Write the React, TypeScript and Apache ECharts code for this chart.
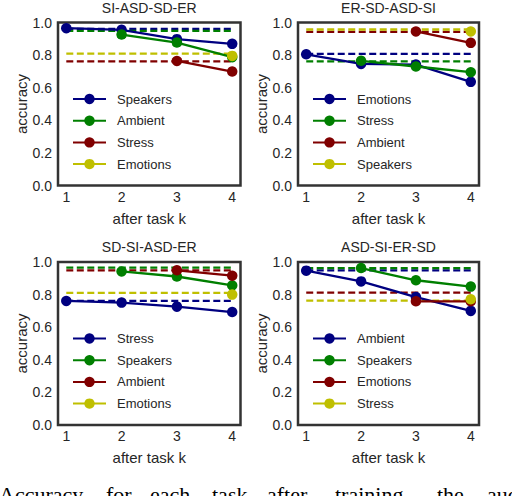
import React, { useEffect, useRef } from "react";
import * as echarts from "echarts";

const panelTitles = ["SI-ASD-SD-ER", "ER-SD-ASD-SI", "SD-SI-ASD-ER", "ASD-SI-ER-SD"];
const steps = [1, 2, 3, 4];
const yTicks = [0, 0.2, 0.4, 0.6, 0.8, 1.0];

// task names per panel, in order of training
const tasksP1 = ["Speakers", "Ambient", "Stress", "Emotions"];
const tasksP2 = ["Emotions", "Stress", "Ambient", "Speakers"];
const tasksP3 = ["Stress", "Speakers", "Ambient", "Emotions"];
const tasksP4 = ["Ambient", "Speakers", "Emotions", "Stress"];

// accuracy after each task k (null = task not learned yet)
const accP1 = [
  [0.965, 0.955, 0.898, 0.869],
  [null, 0.926, 0.877, 0.787],
  [null, null, 0.764, 0.699],
  [null, null, null, 0.795],
];
const accP2 = [
  [0.805, 0.746, 0.742, 0.636],
  [null, 0.765, 0.73, 0.695],
  [null, null, 0.945, 0.875],
  [null, null, null, 0.945],
];
const accP3 = [
  [0.761, 0.751, 0.726, 0.693],
  [null, 0.942, 0.911, 0.856],
  [null, null, 0.949, 0.916],
  [null, null, null, 0.8],
];
const accP4 = [
  [0.947, 0.881, 0.785, 0.7],
  [null, 0.963, 0.888, 0.849],
  [null, null, 0.759, 0.759],
  [null, null, null, 0.771],
];

// single-task baselines (dashed)
const baseP1 = [0.96, 0.949, 0.762, 0.809];
const baseP2 = [0.807, 0.761, 0.942, 0.957];
const baseP3 = [0.761, 0.965, 0.949, 0.811];
const baseP4 = [0.949, 0.963, 0.812, 0.763];

const captionWords = ["Accuracy", "for", "each", "task", "after", "training", "the", "audio"];

const colors = ["#000080", "#007f00", "#800000", "#bfbf00"];
const textColor = "#262626";
const FONT = "Liberation Sans, Arial, sans-serif";

const grids = [
  { left: 58, top: 22.5, width: 182.5, height: 163 },
  { left: 298, top: 22.5, width: 181, height: 163 },
  { left: 58, top: 262, width: 182.5, height: 163 },
  { left: 298, top: 262, width: 181, height: 163 },
];
const captionX = [-1, 106, 150, 212, 267, 335, 437, 487];

export default function App() {
  const ref = useRef<HTMLDivElement>(null);
  useEffect(() => {
    if (!ref.current) return;
    const chart = echarts.init(ref.current, null, { renderer: "svg" });
    const tasks = [tasksP1, tasksP2, tasksP3, tasksP4];
    const accs = [accP1, accP2, accP3, accP4];
    const bases = [baseP1, baseP2, baseP3, baseP4];

    const series: any[] = [];
    const legends: any[] = [];
    const graphics: any[] = [];
    for (let p = 0; p < 4; p++) {
      const g = grids[p];
      for (let t = 0; t < 4; t++) {
        series.push({
          type: "line",
          name: `${p}|${tasks[p][t]}|base`,
          xAxisIndex: p,
          yAxisIndex: p,
          data: [
            [steps[0], bases[p][t]],
            [steps[3], bases[p][t]],
          ],
          symbol: "none",
          lineStyle: { color: colors[t], width: 2.3, type: [7, 3.5] },
          itemStyle: { color: colors[t] },
          silent: true,
          z: 2,
        });
      }
      for (let t = 0; t < 4; t++) {
        const d: any[] = [];
        accs[p][t].forEach((v, i) => {
          if (v !== null) d.push([steps[i], v]);
        });
        series.push({
          type: "line",
          name: `${p}|${tasks[p][t]}`,
          xAxisIndex: p,
          yAxisIndex: p,
          data: d,
          symbol: "circle",
          symbolSize: 10.5,
          lineStyle: { color: colors[t], width: 2.3 },
          itemStyle: { color: colors[t] },
          silent: true,
          z: 3,
        });
      }
      legends.push({
        orient: "vertical",
        left: g.left + 14,
        top: g.top + 70,
        padding: 0,
        itemWidth: 33,
        itemHeight: 13,
        itemGap: 8.7,
        selectedMode: false,
        data: tasks[p].map((n) => `${p}|${n}`),
        formatter: (name: string) => `{t|${name.split("|")[1]}}`,
        textStyle: {
          fontFamily: FONT,
          fontSize: 13,
          color: textColor,
          rich: { t: { fontFamily: FONT, fontSize: 13, color: textColor, padding: [0, 0, 0, 6] } },
        },
      });
      graphics.push({
        type: "text",
        x: g.left + g.width / 2,
        y: g.top - 15,
        style: {
          text: panelTitles[p],
          align: "center",
          verticalAlign: "middle",
          fontFamily: FONT,
          fontSize: 14,
          fill: textColor,
        },
      });
    }
    captionWords.forEach((w, i) => {
      graphics.push({
        type: "text",
        x: captionX[i],
        y: 494,
        style: {
          text: w,
          align: "left",
          verticalAlign: "middle",
          fontFamily: "Liberation Serif, Times New Roman, serif",
          fontSize: 22,
          fill: "#000",
        },
      });
    });

    chart.setOption({
      animation: false,
      backgroundColor: "#fff",
      grid: grids.map((g) => ({
        ...g,
        show: true,
        borderColor: "#333",
        borderWidth: 2.5,
        backgroundColor: "transparent",
        containLabel: false,
      })),
      xAxis: grids.map((_, i) => ({
        type: "value",
        gridIndex: i,
        min: 0.85,
        max: 4.15,
        name: "after task k",
        nameLocation: "middle",
        nameGap: 25,
        nameTextStyle: { fontFamily: FONT, fontSize: 15, color: textColor },
        axisLine: { show: false },
        axisTick: { show: false },
        splitLine: { show: false },
        axisLabel: {
          customValues: steps,
          margin: 4,
          fontFamily: FONT,
          fontSize: 14,
          color: textColor,
          formatter: (v: number) => String(v),
        },
      })),
      yAxis: grids.map((_, i) => ({
        type: "value",
        gridIndex: i,
        min: yTicks[0],
        max: yTicks[yTicks.length - 1],
        interval: 0.2,
        name: "accuracy",
        nameLocation: "middle",
        nameGap: 24,
        nameTextStyle: { fontFamily: FONT, fontSize: 15, color: textColor },
        axisLine: { show: false },
        axisTick: { show: false },
        splitLine: { show: false },
        axisLabel: {
          margin: 6,
          fontFamily: FONT,
          fontSize: 14,
          color: textColor,
          formatter: (v: number) => v.toFixed(1),
        },
      })),
      legend: legends,
      series,
      graphic: graphics,
    });
    return () => chart.dispose();
  }, []);
  return (
    <div
      ref={ref}
      style={{ position: "absolute", left: 0, top: 0, width: 512, height: 496 }}
    />
  );
}
